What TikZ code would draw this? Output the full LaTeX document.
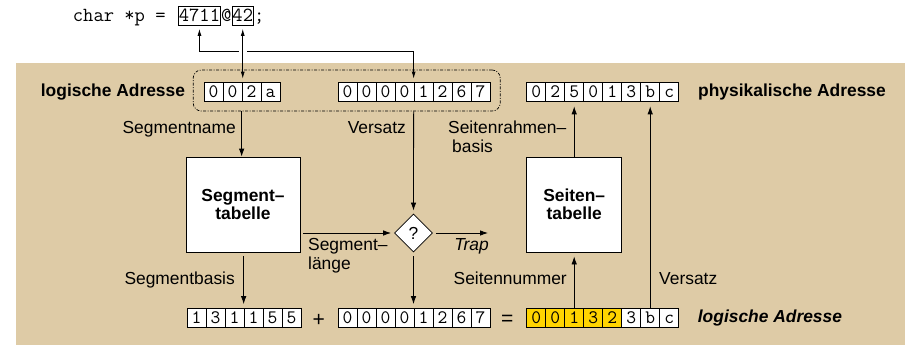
\documentclass[tikz,border=0pt]{standalone}
\usepackage{fontspec}
\setmainfont{Liberation Sans}
\usetikzlibrary{shapes.geometric,arrows.meta,calc}
\definecolor{bg}{RGB}{222,203,166}
\definecolor{gold}{RGB}{255,212,0}
\tikzset{
  lbl/.style={font=\fontsize{17.4}{19}\selectfont, inner sep=0pt, text height=12.5pt, text depth=3.5pt},
  ttl/.style={lbl, font=\fontsize{17.4}{19}\selectfont\bfseries},
  opsign/.style={font=\fontsize{21}{21}\selectfont, inner sep=0pt},
  code/.style={font=\fontsize{20}{20}\selectfont\ttfamily, inner sep=0pt},
  codebox/.style={code, draw, line width=0.7pt, inner xsep=0.5pt, text height=16pt, text depth=3.5pt},
  cell/.style={draw, fill=white, minimum width=19pt, minimum height=19pt, inner sep=0pt, line width=0.7pt,
               font=\fontsize{19}{19}\selectfont\ttfamily, text height=11pt, text depth=0pt},
  tab/.style={draw, fill=white, line width=0.8pt, align=center, inner sep=0pt,
              font=\fontsize{17.4}{18.5}\selectfont\bfseries},
  arr/.style={-{Latex[length=8pt,width=5.5pt]}, line width=0.8pt},
  darr/.style={{Latex[length=7pt,width=4pt]}-{Latex[length=7pt,width=4pt]}, line width=0.8pt},
  grpbox/.style={draw, line width=0.7pt, rounded corners=8pt, dash pattern=on 3pt off 1.5pt on 1pt off 1.5pt,
                 minimum width=307pt, minimum height=41pt, inner sep=0pt},
}
\begin{document}
\begin{tikzpicture}[x=1pt,y=-1pt]
\useasboundingbox (0,0) rectangle (911,345);
\fill[bg] (16,63) rectangle (905,345);

% code line
\node[code, anchor=base west] (c0) at (72.7,22) {char *p =};
\node[codebox, anchor=base west] (p1) at (178,22) {4711};
\node[code, anchor=base west] (atsign) at (p1.base east) {@};
\node[codebox, anchor=base west] (p2) at (atsign.base east) {42};
\node[code, anchor=base west] (semi) at (p2.base east) {;};

% dotted group
\node[grpbox] (grp) at (346.7,90.5) {};

% cell rows
\foreach \d [count=\i] in {0,0,2,a}
  \node[cell] (a\i) at ({204+19*\i-9.5},91.5) {\d};
\foreach \d [count=\i] in {0,0,0,0,1,2,6,7}
  \node[cell] (b\i) at ({338+19*\i-9.5},91.5) {\d};
\foreach \d [count=\i] in {0,2,5,0,1,3,b,c}
  \node[cell] (c\i) at ({526.7+19*\i-9.5},91.5) {\d};
\foreach \d [count=\i] in {1,3,1,1,5,5}
  \node[cell] (d\i) at ({187+19*\i-9.5},318) {\d};
\foreach \d [count=\i] in {0,0,0,0,1,2,6,7}
  \node[cell] (e\i) at ({338+19*\i-9.5},318) {\d};
\foreach \d [count=\i] in {0,0,1,3,2}
  \node[cell, fill=gold] (f\i) at ({526.7+19*\i-9.5},318) {\d};
\foreach \d [count=\i from 6] in {3,b,c}
  \node[cell] (f\i) at ({526.7+19*\i-9.5},318) {\d};

% titles
\node[ttl, anchor=west] (tla) at (40.7,92) {logische Adresse};
\node[ttl, anchor=west] (tpa) at (698,92) {physikalische Adresse};
\node[ttl, anchor=west, font=\fontsize{17.4}{19}\selectfont\bfseries\itshape] (tlb) at (697.7,318) {logische Adresse};
\node[opsign] (plus) at (318.7,320) {+};
\node[opsign] (eq) at (507.3,320) {=};

% tables and check
\node[tab, minimum width=114pt, minimum height=95pt] (segtab) at (243,204.5) {Segment–\\tabelle};
\node[tab, minimum width=95pt, minimum height=95pt] (seittab) at (574.2,204.5) {Seiten–\\tabelle};
\node[diamond, draw, fill=white, line width=0.8pt, minimum width=38pt, minimum height=38pt, inner sep=0pt,
      font=\fontsize{17.4}{19}\selectfont] (dia) at (413.5,233) {?};
\coordinate (trapend) at (488,233);

% labels
\node[lbl, anchor=east] (lsn) at (236,129) {Segmentname};
\node[lbl, anchor=east] (lvs) at (406,129) {Versatz};
\node[lbl, anchor=west] (lsr) at (448,129) {Seitenrahmen–};
\node[lbl, anchor=west] (lsb) at (452,148) {basis};
\node[lbl, anchor=west] (lsl1) at (308,246) {Segment–};
\node[lbl, anchor=west] (lsl2) at (308,265) {länge};
\node[lbl, font=\fontsize{17.4}{19}\selectfont\itshape] (ltrap) at (471.5,246) {Trap};
\node[lbl, anchor=east] (lsgb) at (235,280) {Segmentbasis};
\node[lbl, anchor=east] (lsnr) at (567,280) {Seitennummer};
\node[lbl, anchor=west] (lvs2) at (659,280) {Versatz};

% top connectors
\coordinate (hl) at (0,51.7);
\draw[darr, shorten <=3pt, shorten >=3pt]
  (p1.south) -- (p1.south |- hl) -- (b5.north west |- hl) -- (b5.north west);
\coordinate (cross) at (p2.south |- hl);
\draw[white, line width=1.5pt] ($(cross)+(-4,0)$) -- ($(cross)+(4,0)$);
\draw[darr, shorten <=3pt, shorten >=3pt] (p2.south) -- (p2.south |- a3.north);

% main connectors
\draw[arr] (grp.south -| a3.north west) -- (segtab.north -| a3.north west);
\draw[arr, shorten >=3pt] (grp.south -| b5.west) -- (dia.north);
\draw[arr, shorten <=3pt, shorten >=3pt] (segtab.east |- dia.west) -- (dia.west);
\draw[arr, shorten <=3pt] (dia.east) -- (trapend);
\draw[arr, shorten <=4pt, shorten >=4pt] (segtab.south -| d4.north west) -- (d4.north west);
\draw[arr, shorten <=4pt, shorten >=4pt] (dia.south) -- (dia.south |- e5.north);
\draw[arr, shorten >=4pt] (f3.north) -- (seittab.south -| f3.north);
\draw[arr, shorten >=5pt] (f7.north) -- (c7.south);
\draw[arr, shorten >=5pt] (seittab.north -| c3.south) -- (c3.south);
\end{tikzpicture}
\end{document}
